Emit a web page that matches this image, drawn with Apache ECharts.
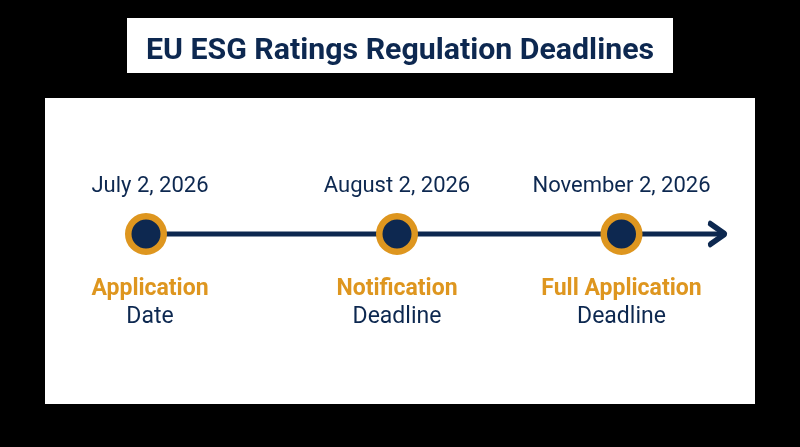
<!DOCTYPE html>
<html lang="en">
<head>
<meta charset="utf-8">
<script src="https://cdn.jsdelivr.net/npm/echarts@6/dist/echarts.min.js"></script>
<style>
  * { margin: 0; padding: 0; }
  body { background: #000; }
</style>
</head>
<body>
<div id="main" style="width:800px;height:447px;"></div>
<script>
var titleText = 'EU ESG Ratings Regulation Deadlines';
var dates = ['July 2, 2026', 'August 2, 2026', 'November 2, 2026'];
var headings = ['Application', 'Notification', 'Full Application'];
var subheadings = ['Date', 'Deadline', 'Deadline'];
// where each milestone sits on the (not to scale) timeline
var timelinePos = [146, 397, 621.5];
var timelineStart = 146;
var timelineEnd = 725;
var timelineLevel = 234;

var navy = '#0d2850';
var gold = '#de961f';
var font = 'Roboto';

var myChart = echarts.init(document.getElementById('main'));

var option = {
    backgroundColor: '#000',
    animation: false,
    title: {
        text: titleText,
        left: 'center',
        top: 28,
        textStyle: { fontFamily: font, fontSize: 30.3, fontWeight: 'bold', color: navy, lineHeight: 36 }
    },
    grid: { left: 0, right: 0, top: 0, bottom: 0 },
    xAxis: { type: 'value', min: 0, max: 800, show: false },
    yAxis: { type: 'value', min: 0, max: 447, inverse: true, show: false },
    graphic: [
        { type: 'rect', z: -1, shape: { x: 127, y: 18, width: 546, height: 55 }, style: { fill: '#fff' } },
        { type: 'rect', z: -1, shape: { x: 45, y: 98, width: 710, height: 306 }, style: { fill: '#fff' } }
    ],
    series: [
        {
            type: 'line',
            z: 2,
            showAllSymbol: true,
            silent: true,
            lineStyle: { color: navy, width: 5 },
            data: [
                { value: [timelineStart, timelineLevel], symbol: 'none' },
                {
                    value: [timelineEnd, timelineLevel],
                    symbol: 'path://M0 0L9 11.5L0 23',
                    symbolSize: [15, 21],
                    symbolOffset: [-7.5, 0],
                    itemStyle: { color: 'none', borderColor: navy, borderWidth: 5, borderCap: 'round', borderJoin: 'round' }
                }
            ]
        },
        {
            // markers + dates above
            type: 'scatter',
            z: 3,
            symbolSize: 35.5,
            silent: true,
            itemStyle: { color: navy, borderColor: gold, borderWidth: 6.5, opacity: 1 },
            label: {
                show: true,
                position: 'top',
                distance: 16,
                fontFamily: font,
                fontSize: 22,
                color: navy,
                formatter: function (p) { return dates[p.dataIndex]; }
            },
            labelLayout: function (params) {
                return params.dataIndex === 0 ? { dx: 4 } : {};
            },
            data: timelinePos.map(function (x) { return [x, timelineLevel]; })
        },
        {
            // heading + sub heading below
            type: 'scatter',
            z: 1,
            symbolSize: 35.5,
            silent: true,
            itemStyle: { color: 'transparent', opacity: 1 },
            label: {
                show: true,
                position: 'bottom',
                distance: 23,
                align: 'center',
                formatter: function (p) {
                    return '{h|' + headings[p.dataIndex] + '}\n{s|' + subheadings[p.dataIndex] + '}';
                },
                rich: {
                    h: { fontFamily: font, fontSize: 23, fontWeight: 'bold', color: gold, lineHeight: 28, align: 'center' },
                    s: { fontFamily: font, fontSize: 23, color: navy, lineHeight: 28, align: 'center' }
                }
            },
            labelLayout: function (params) {
                return params.dataIndex === 0 ? { dx: 4 } : {};
            },
            data: timelinePos.map(function (x) { return [x, timelineLevel]; })
        }
    ]
};

myChart.setOption(option);
</script>
</body>
</html>
